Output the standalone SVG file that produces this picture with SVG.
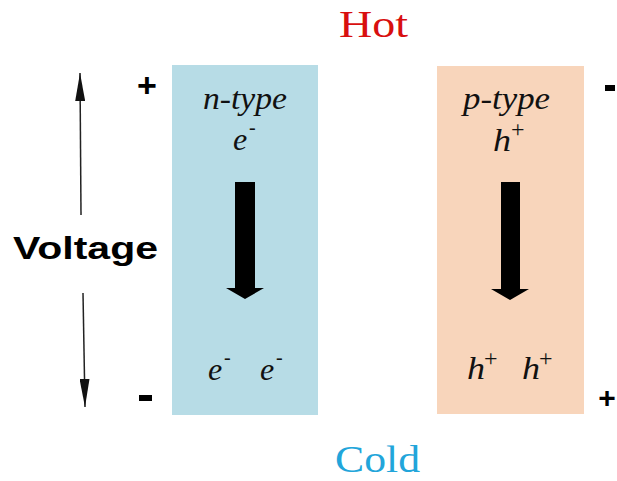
<svg xmlns="http://www.w3.org/2000/svg" width="617" height="481" viewBox="0 0 617 481">
<defs>
<style>
.it{font-family:"Liberation Serif","Times New Roman",serif;font-style:italic;font-size:32px;fill:#111}
.sup{font-family:"Liberation Serif","Times New Roman",serif;font-size:24px;fill:#111}
.dash{font-family:"Liberation Serif","Times New Roman",serif;font-size:20px;fill:#111}
.sign{font-family:"Liberation Sans",Arial,sans-serif;font-weight:bold;fill:#000}
.ttl{font-family:"Liberation Serif","Times New Roman",serif;font-size:38px}
.vline{stroke:#222;stroke-width:1.5;fill:none}
.big{fill:#000}
</style>
<marker id="ah" viewBox="0 0 28 10" refX="28" refY="5" markerWidth="28" markerHeight="10" markerUnits="userSpaceOnUse" orient="auto">
<path d="M0,0 L28,5 L0,10 Z" fill="#111"/>
</marker>
</defs>
<rect width="617" height="481" fill="#fff"/>
<text class="ttl" x="339" y="37" fill="#d80f0f" textLength="69" lengthAdjust="spacingAndGlyphs">Hot</text>
<text class="ttl" x="335" y="472" fill="#22a5da" textLength="85" lengthAdjust="spacingAndGlyphs">Cold</text>

<g id="n-type">
<rect x="172" y="65" width="146" height="350" fill="#b7dce6"/>
<text class="it" x="203" y="109" textLength="84" lengthAdjust="spacingAndGlyphs">n-type</text>
<text class="it" x="233" y="150">e</text>
<text class="dash" x="249" y="134">-</text>
<path class="big" d="M235,182 H255 V288 H264 L245,299 L226,288 H235 Z"/>
<text class="it" x="208" y="380">e</text>
<text class="dash" x="224" y="364">-</text>
<text class="it" x="260" y="380">e</text>
<text class="dash" x="276" y="364">-</text>
</g>

<g id="p-type">
<rect x="437" y="66" width="147" height="348" fill="#f8d5bb"/>
<text class="it" x="463" y="109" textLength="87" lengthAdjust="spacingAndGlyphs">p-type</text>
<text class="it" x="493" y="151" textLength="18" lengthAdjust="spacingAndGlyphs">h</text>
<text class="sup" x="511" y="137">+</text>
<path class="big" d="M501,182 H520 V289 H529 L510,300 L491,289 H501 Z"/>
<text class="it" x="467" y="379" textLength="18" lengthAdjust="spacingAndGlyphs">h</text>
<text class="sup" x="484" y="366">+</text>
<text class="it" x="522" y="379" textLength="18" lengthAdjust="spacingAndGlyphs">h</text>
<text class="sup" x="539" y="366">+</text>
</g>

<g id="voltage">
<text class="sign" x="13" y="259" font-size="31" textLength="145" lengthAdjust="spacingAndGlyphs">Voltage</text>
</g>

<g id="signs">
<text class="sign" x="147" y="97" font-size="34" text-anchor="middle">+</text>
<rect x="139" y="395" width="13" height="6" fill="#000"/>
<rect x="605" y="85" width="10" height="6" fill="#000"/>
<text class="sign" x="607" y="408" font-size="30" text-anchor="middle">+</text>
</g>

<g id="connectors">
<line class="vline" x1="81" y1="215" x2="80" y2="73" marker-end="url(#ah)"/>
<line class="vline" x1="83" y1="293" x2="85" y2="407" marker-end="url(#ah)"/>
</g>
</svg>
